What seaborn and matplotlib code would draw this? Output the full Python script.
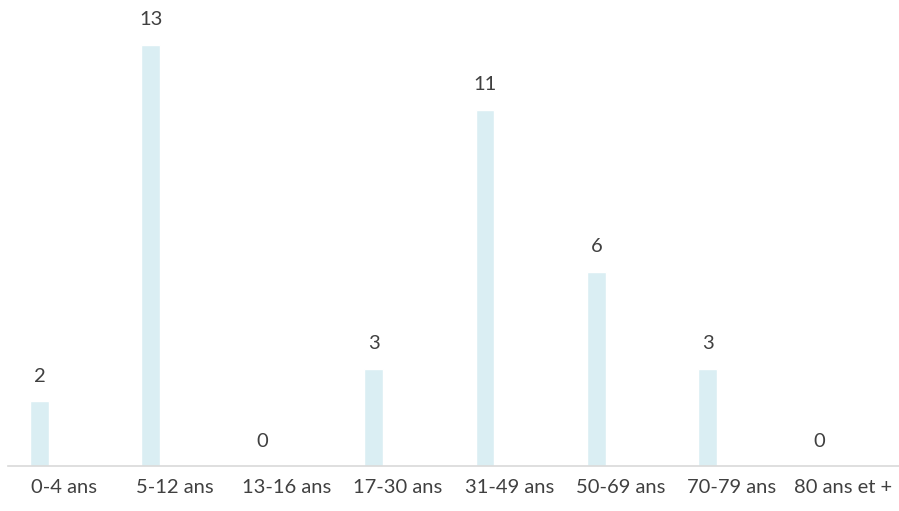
import matplotlib
matplotlib.use("Agg")
import matplotlib.pyplot as plt
import seaborn as sns
import numpy as np

# tranches d'age et effectifs
categories = ['0-4 ans', '5-12 ans', '13-16 ans', '17-30 ans', '31-49 ans',
              '50-69 ans', '70-79 ans', '80 ans et +']
valeurs = [2, 13, 0, 3, 11, 6, 3, 0]

sns.set_style("white")
plt.rcParams['font.family'] = ['Lato', 'DejaVu Sans']

fig = plt.figure(figsize=(8.99, 5.11), dpi=100)
ax = fig.add_axes([8 / 899, 45 / 511, 891 / 899, 453.6 / 511])

# bars sit left of the category centre (first slot of a clustered chart)
pos = np.arange(len(categories)) - 0.217
sns.barplot(x=pos, y=valeurs, native_scale=True, width=0.17,
            color='#DAEEF3', saturation=1, ax=ax)

for xi, yi in zip(pos, valeurs):
    ax.annotate(str(yi), (xi, yi), textcoords="offset points", xytext=(0, 18),
                ha='center', va='center', fontsize=14.5, color='#404040')

ax.set_xlim(-0.5, len(categories) - 0.5)
ax.set_ylim(0, 14)
ax.set_xticks(np.arange(len(categories)))
ax.set_xticklabels(categories, fontsize=14.5, color='#404040')
ax.tick_params(axis='x', length=0, pad=9)
ax.set_yticks([])
ax.set_xlabel('')
ax.set_ylabel('')
for s in ['top', 'left', 'right']:
    ax.spines[s].set_visible(False)
ax.spines['bottom'].set_color('#D9D9D9')
ax.spines['bottom'].set_linewidth(1.2)

fig.savefig('out.png', dpi=100)
